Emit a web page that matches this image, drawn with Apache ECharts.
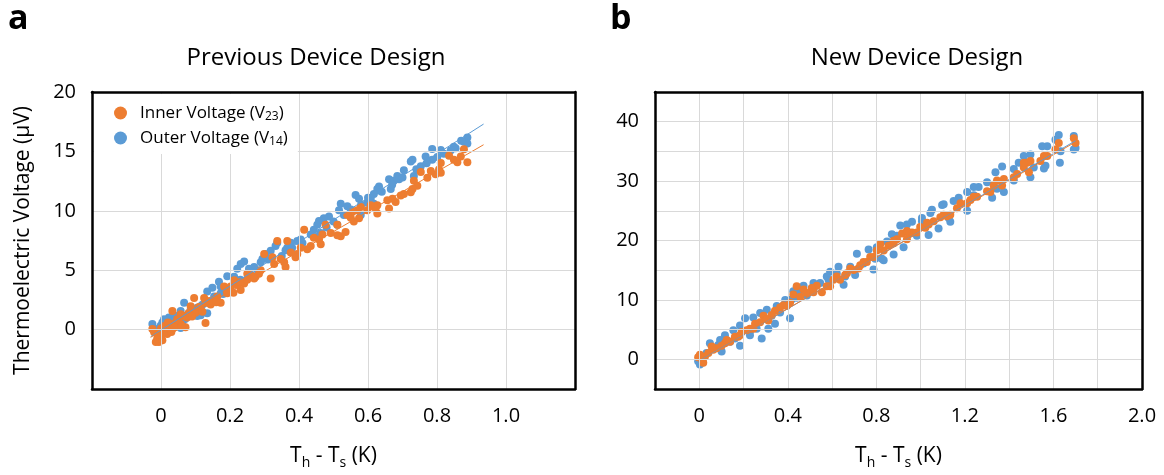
<!DOCTYPE html>
<html>
<head>
<meta charset="utf-8">
<script src="https://cdn.jsdelivr.net/npm/echarts@6/dist/echarts.min.js"></script>
<style>
html,body{margin:0;padding:0;background:#fff;}
#chart{width:1164px;height:475px;}
</style>
</head>
<body>
<div id="chart"></div>
<script>
// ---------- DATA ----------
const panelTitles = ['Previous Device Design', 'New Device Design'];
const seriesNames = ['Inner', 'Outer'];
const legendLabels = ['Inner Voltage (V{s|23})', 'Outer Voltage (V{s|14})'];

// Left panel (Previous design): [ΔT (K), V (µV)]
const prevOuter = [
[0.888,16.16],[0.878,15.81],[0.888,15.67],[0.854,15.26],[0.849,15.40],[0.811,15.12],[0.786,15.21],[0.801,14.52],[0.786,14.30],[0.767,14.58],
[0.729,14.30],[0.724,14.16],[0.753,13.75],[0.733,12.93],[0.704,13.42],[0.685,12.93],[0.690,12.66],[0.661,12.66],[0.675,12.52],[0.632,12.05],
[0.627,11.84],[0.632,11.70],[0.666,11.84],[0.617,11.42],[0.608,11.01],[0.598,10.68],[0.617,10.60],[0.564,11.34],[0.574,11.01],[0.540,10.38],
[0.521,10.60],[0.516,10.05],[0.530,9.64],[0.579,9.64],[0.511,8.82],[0.487,9.51],[0.472,9.37],[0.458,9.15],[0.453,8.82],[0.443,8.41],
[0.434,8.00],[0.463,8.14],[0.405,7.59],[0.395,7.45],[0.376,7.32],[0.366,6.90],[0.361,6.68],[0.337,7.32],[0.332,7.04],[0.318,6.63],
[0.303,6.36],[0.294,5.95],[0.289,5.67],[0.270,5.26],[0.255,5.12],[0.241,5.73],[0.231,5.53],[0.221,5.12],[0.212,4.44],[0.192,4.49],
[0.168,4.03],[0.173,3.62],[0.149,3.53],[0.134,3.21],[0.154,2.79],[0.134,2.25],[0.115,1.97],[0.105,1.84],[0.086,1.70],[0.067,2.25],
[0.057,1.56],[0.038,1.21],[0.023,1.01],[0.009,0.88],[0.004,0.60],[-0.001,0.33],[-0.025,0.47],[0.057,0.14],[0.115,1.21],[0.047,0.38],
[0.062,0.60],[-0.011,0.05],[0.018,0.47],[0.134,1.37],[0.105,1.15],[0.173,3.07],[0.197,3.34],
[0.03,0.7],[0.05,1.0],[0.08,1.3],[0.10,1.6],[0.07,0.9],[0.12,2.1],[0.16,2.6],[0.18,3.0],[0.20,3.4],[0.23,4.2],
[0.26,4.6],[0.28,5.0],[0.31,5.9],[0.35,6.2],[0.38,6.9],[0.41,7.3],[0.45,7.8],[0.48,8.6],[0.50,9.1],[0.55,10.1],
[0.58,10.5],[0.60,11.1],[0.64,11.6],[0.67,12.2],[0.70,12.8],[0.74,13.5],[0.77,14.0],[0.82,14.8],[0.84,15.1],[0.87,15.9]
];
const prevInner = [
[0.878,15.18],[0.888,14.08],[0.869,14.58],[0.849,14.30],[0.859,14.08],[0.835,14.63],[0.811,14.03],[0.806,13.48],[0.811,13.21],[0.796,13.07],
[0.782,13.34],[0.772,12.79],[0.753,13.26],[0.733,12.52],[0.743,12.11],[0.729,11.84],[0.724,11.56],[0.704,11.42],[0.695,11.29],[0.680,10.74],
[0.671,11.01],[0.656,10.88],[0.661,10.19],[0.627,10.47],[0.627,9.78],[0.622,10.19],[0.608,10.47],[0.598,10.05],[0.579,10.33],[0.569,10.05],
[0.574,9.37],[0.559,9.10],[0.550,9.42],[0.555,9.92],[0.540,9.64],[0.535,8.22],[0.521,7.86],[0.511,7.95],[0.511,8.82],[0.492,8.14],
[0.477,8.82],[0.468,8.00],[0.458,7.59],[0.443,7.73],[0.463,7.18],[0.434,7.04],[0.424,6.77],[0.415,8.41],[0.405,6.90],[0.395,6.36],
[0.390,6.08],[0.376,6.49],[0.366,7.45],[0.361,5.26],[0.357,5.67],[0.347,5.95],[0.337,7.45],[0.328,5.53],[0.323,6.08],[0.318,4.30],
[0.299,6.36],[0.289,4.99],[0.284,4.71],[0.274,4.44],[0.260,4.58],[0.250,4.71],[0.241,3.89],[0.231,3.34],[0.221,3.75],[0.212,4.16],
[0.202,3.62],[0.192,3.07],[0.183,3.62],[0.173,2.25],[0.163,2.79],[0.154,2.52],[0.144,2.11],[0.129,2.25],[0.125,2.66],[0.129,0.55],
[0.115,1.70],[0.100,1.42],[0.096,2.66],[0.086,1.97],[0.076,1.01],[0.071,0.19],[0.057,1.29],[0.047,0.88],[0.043,0.60],[0.033,1.56],
[0.028,0.47],[0.023,0.19],[0.014,-0.08],[0.009,-0.22],[-0.001,-0.49],[-0.006,-1.04],[-0.011,-0.77],[-0.015,-1.04],[-0.020,-0.22],[-0.025,0.05],
[0.004,-0.90],[0.018,-0.36],[0.033,0.05],[0.057,0.47],[0.067,1.15],
[0.01,0.3],[0.02,0.6],[0.04,0.2],[0.05,0.8],[0.06,0.3],[0.03,-0.2],[0.00,0.1],[0.08,1.4],[0.09,1.1],[0.11,1.9],
[0.12,1.5],[0.14,2.4],[0.16,2.3],[0.19,3.3],[0.21,3.1],[0.23,4.0],[0.25,4.2],[0.27,4.3]
];
const prevOuterTrend = [[-0.03,-0.6],[0.935,17.3]];
const prevInnerTrend = [[-0.03,-0.65],[0.935,15.56]];

// Right panel (New design)
const newOuter = [
[1.692,37.61],[1.692,35.31],[1.700,35.58],[1.624,37.77],[1.609,36.95],[1.629,33.11],[1.632,35.03],[1.572,35.86],[1.549,35.86],[1.564,32.57],
[1.557,32.13],[1.496,34.48],[1.466,34.21],[1.443,33.11],[1.496,30.65],[1.421,32.02],[1.421,30.10],[1.368,32.46],[1.338,31.47],[1.376,28.18],
[1.345,28.73],[1.323,27.19],[1.300,29.82],[1.262,29.00],[1.240,29.00],[1.210,28.18],[1.210,25.00],[1.172,27.19],[1.149,26.64],[1.134,23.14],
[1.104,26.10],[1.097,25.99],[1.081,22.04],[1.051,25.16],[1.044,24.62],[1.036,20.94],[1.006,23.79],[1.006,23.25],[0.983,20.78],[0.961,23.14],
[0.938,22.70],[0.908,22.53],[0.923,18.86],[0.893,20.78],[0.878,17.65],[0.870,21.05],[0.848,19.85],[0.833,16.67],[0.825,16.94],[0.802,18.86],
[0.787,15.13],[0.765,18.48],[0.742,16.12],[0.712,17.76],[0.704,14.20],[0.682,15.57],[0.652,12.55],[0.629,15.57],[0.621,14.47],[0.591,14.75],
[0.584,13.38],[0.546,12.83],[0.516,12.83],[0.486,10.75],[0.471,12.39],[0.456,11.46],[0.425,11.46],[0.418,10.09],[0.410,6.91],[0.388,9.98],
[0.350,8.99],[0.342,5.98],[0.312,5.15],[0.305,8.33],[0.282,3.51],[0.275,7.79],[0.244,7.02],[0.229,4.71],[0.207,6.91],[0.184,5.70],
[0.184,2.30],[0.161,3.51],[0.154,4.88],[0.116,4.06],[0.101,1.32],[0.086,2.41],[0.048,2.69],[0.033,1.04],[0.018,0.22],[0.003,-0.88],
[-0.005,-0.33],[0.094,3.23],[0.139,2.96],[0.229,4.06],[0.259,5.15],[0.327,7.35],[0.365,7.89],[0.440,10.36],[0.516,11.73],[0.576,13.93],
[0.659,13.93],[0.795,16.94],[0.863,19.41],[1.029,22.70],[1.127,23.79],[1.240,27.63],[1.330,29.39],[1.511,32.29]
];
const newInner = [
[1.692,37.23],[1.700,36.40],[1.624,36.40],[1.609,35.31],[1.557,34.21],[1.572,34.21],[1.496,33.39],[1.481,33.11],[1.466,32.29],[1.489,31.47],
[1.436,31.20],[1.421,30.65],[1.376,30.37],[1.368,29.28],[1.345,30.10],[1.315,28.18],[1.300,28.29],[1.255,27.36],[1.240,27.36],[1.210,26.26],
[1.180,26.26],[1.164,25.44],[1.134,24.34],[1.104,24.34],[1.089,23.90],[1.059,23.25],[1.036,22.70],[1.021,22.15],[0.998,22.26],[0.983,21.33],
[0.961,21.33],[0.946,21.16],[0.938,20.23],[0.916,21.16],[0.893,20.23],[0.878,19.52],[0.855,19.13],[0.833,18.31],[0.818,19.41],[0.787,17.21],
[0.772,17.21],[0.757,16.39],[0.742,16.39],[0.719,15.30],[0.697,15.02],[0.682,15.30],[0.659,14.20],[0.636,13.38],[0.621,13.93],[0.591,12.28],
[0.576,12.28],[0.554,11.29],[0.531,12.39],[0.508,12.01],[0.486,11.18],[0.471,11.73],[0.440,12.28],[0.425,10.91],[0.410,9.54],[0.380,9.10],
[0.365,8.72],[0.342,8.17],[0.327,7.46],[0.312,6.52],[0.290,7.35],[0.275,6.25],[0.252,5.98],[0.229,5.15],[0.214,4.88],[0.192,4.61],
[0.176,3.78],[0.161,3.78],[0.139,2.96],[0.116,2.69],[0.101,2.30],[0.078,1.86],[0.063,1.59],[0.041,1.04],[0.026,0.49],[0.011,-0.05],
[0.003,0.77],[0.018,-0.60],[-0.005,0.33],[0.056,2.14],[0.124,3.23],[0.184,4.06],[0.244,5.15],[0.305,6.80],[0.395,8.99],[0.456,10.53],
[0.516,11.29],[0.606,13.38],[0.667,14.47],[0.727,15.84],[0.802,18.31],[0.878,19.96],[0.938,21.60],[1.029,22.97],[1.119,24.07],[1.225,26.81],
[1.330,29.28],[1.466,33.11],[1.541,33.39]
];
const newOuterTrend = [[-0.005,-0.3],[1.70,36.8]];
const newInnerTrend = [[-0.005,-0.2],[1.70,36.6]];

// ---------- STYLE ----------
const ORANGE = '#ED7D31';
const BLUE = '#5B9BD5';
const GRID = '#d9d9d9';
const FONT = 'Open Sans';
const BORDER = {show: true, onZero: false, lineStyle: {color: '#000', width: 2.5}};

const near = (a, b) => Math.abs(a - b) < 1e-6;
const subRich = {
  n: {fontSize: 21, fontFamily: FONT, color: '#000', lineHeight: 28},
  s: {fontSize: 14, fontFamily: FONT, color: '#000', lineHeight: 14, verticalAlign: 'bottom'}
};

const chart = echarts.init(document.getElementById('chart'), null, {renderer: 'canvas'});

function valAxisCommon() {
  return {
    type: 'value',
    axisLine: BORDER,
    axisTick: {show: false},
    splitLine: {show: true, lineStyle: {color: GRID, width: 1}},
    axisLabel: {color: '#000', fontSize: 20, fontFamily: FONT},
    z: 5
  };
}
// frame-only axes (top / right edges of each box)
function frameAxis(gridIndex, position, min, max) {
  return {type: 'value', gridIndex, position, min, max,
    axisLine: BORDER, axisTick: {show: false}, axisLabel: {show: false}, splitLine: {show: false}, z: 5};
}

const xLeft = Object.assign(valAxisCommon(), {
  gridIndex: 0, min: -0.2, max: 1.2, interval: 0.2, position: 'bottom',
  name: '{n|T}{s|h}{n| - T}{s|s}{n| (K)}', nameLocation: 'middle', nameGap: 53,
  nameTextStyle: {rich: subRich},
});
xLeft.axisLabel = Object.assign({}, xLeft.axisLabel, {margin: 17, showMinLabel: true, showMaxLabel: true,
  formatter: v => (v < -1e-9 || v > 1.0 + 1e-9) ? '' : (near(v, 0) ? '0' : v.toFixed(1))});

const yLeft = Object.assign(valAxisCommon(), {
  gridIndex: 0, min: -5, max: 20, interval: 5, position: 'left',
  name: 'Thermoelectric Voltage (\u03bcV)', nameLocation: 'middle', nameGap: 58, nameRotate: 90,
  nameTextStyle: {fontSize: 21, fontFamily: FONT, color: '#000'}
});
yLeft.axisLabel = Object.assign({}, yLeft.axisLabel, {margin: 16,
  formatter: v => v < -1e-9 ? '' : String(Math.round(v))});

const xRight = Object.assign(valAxisCommon(), {
  gridIndex: 1, min: -0.2, max: 2.0, interval: 0.2, position: 'bottom',
  name: '{n|T}{s|h}{n| - T}{s|s}{n| (K)}', nameLocation: 'middle', nameGap: 53,
  nameTextStyle: {rich: subRich},
});
xRight.axisLabel = Object.assign({}, xRight.axisLabel, {margin: 17, showMinLabel: true, showMaxLabel: true,
  formatter: v => {
    if (v < -1e-9) return '';
    const k = v / 0.4;
    if (!near(k, Math.round(k))) return '';
    return near(v, 0) ? '0' : v.toFixed(1);
  }});

const yRight = Object.assign(valAxisCommon(), {gridIndex: 1, min: -5, max: 45, interval: 5, position: 'left'});
yRight.axisLabel = Object.assign({}, yRight.axisLabel, {margin: 16,
  formatter: v => {
    if (v < -1e-9) return '';
    const k = v / 10;
    return near(k, Math.round(k)) ? String(Math.round(v)) : '';
  }});

function scatter(name, data, color, xi) {
  return {name, type: 'scatter', xAxisIndex: xi, yAxisIndex: xi, data,
    symbol: 'circle', symbolSize: 8, itemStyle: {color, opacity: 1}, z: 3};
}
function trend(data, color, xi) {
  return {type: 'line', xAxisIndex: xi, yAxisIndex: xi, data, showSymbol: false, symbol: 'none',
    lineStyle: {color, width: 1}, z: 4, silent: true};
}

const option = {
  animation: false,
  backgroundColor: '#fff',
  grid: [
    {left: 92, top: 92, width: 483, height: 302, show: false},
    {left: 655, top: 92, width: 487, height: 302, show: false}
  ],
  xAxis: [xLeft, xRight, frameAxis(0, 'top', -0.2, 1.2), frameAxis(1, 'top', -0.2, 2.0)],
  yAxis: [yLeft, yRight, frameAxis(0, 'right', -5, 20), frameAxis(1, 'right', -5, 45)],
  legend: {
    data: seriesNames,
    orient: 'vertical',
    left: 94, top: 94,
    padding: [9, 10, 6, 20],
    itemGap: 5,
    itemWidth: 13, itemHeight: 13,
    icon: 'circle',
    backgroundColor: '#fff',
    z: 6,
    formatter: name => legendLabels[seriesNames.indexOf(name)],
    textStyle: {fontSize: 17, fontFamily: FONT, color: '#000', lineHeight: 20, padding: [0, 0, 0, 8],
      rich: {s: {fontSize: 12, fontFamily: FONT, color: '#000', lineHeight: 12, verticalAlign: 'bottom'}}}
  },
  graphic: [
    {type: 'text', left: 8, top: 2, style: {text: 'a', font: 'bold 34px "Open Sans"', fill: '#000'}},
    {type: 'text', left: 610, top: 2, style: {text: 'b', font: 'bold 34px "Open Sans"', fill: '#000'}},
    {type: 'text', x: 316, y: 46, style: {text: panelTitles[0], font: '24px "Open Sans"', fill: '#000', textAlign: 'center'}},
    {type: 'text', x: 917, y: 46, style: {text: panelTitles[1], font: '24px "Open Sans"', fill: '#000', textAlign: 'center'}}
  ],
  series: [
    scatter('Outer', prevOuter, BLUE, 0),
    scatter('Inner', prevInner, ORANGE, 0),
    trend(prevOuterTrend, BLUE, 0),
    trend(prevInnerTrend, ORANGE, 0),
    scatter('Outer', newOuter, BLUE, 1),
    scatter('Inner', newInner, ORANGE, 1),
    trend(newOuterTrend, BLUE, 1),
    trend(newInnerTrend, ORANGE, 1)
  ]
};
chart.setOption(option);
</script>
</body>
</html>
